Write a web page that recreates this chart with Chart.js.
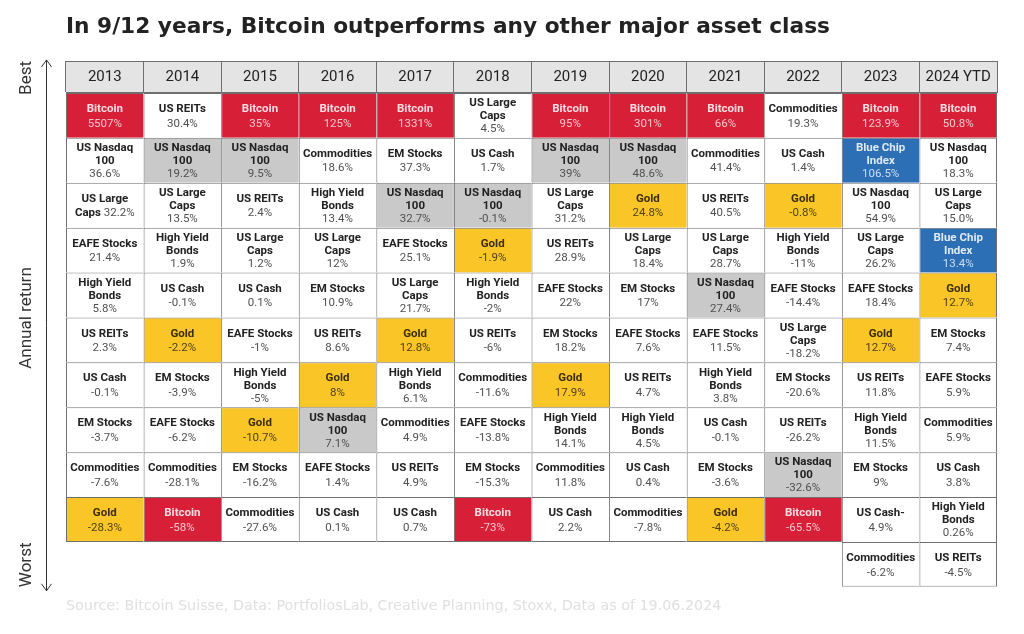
<!DOCTYPE html>
<html>
<head>
<meta charset="utf-8">
<script src="https://cdn.jsdelivr.net/npm/chart.js@4/dist/chart.umd.min.js"></script>
<style>
  body{margin:0;background:#fff;}
  #box{width:1024px;height:634px;}
</style>
</head>
<body>
<div id="box"><canvas id="myChart" width="1024" height="634"></canvas></div>
<script>
// columns
const years = ['2013', '2014', '2015', '2016', '2017', '2018', '2019', '2020', '2021', '2022', '2023', '2024 YTD'];

// assets per year, best to worst
const assets = [
  ['Bitcoin', 'US Nasdaq 100', 'US Large Caps', 'EAFE Stocks', 'High Yield Bonds', 'US REITs', 'US Cash', 'EM Stocks', 'Commodities', 'Gold'],
  ['US REITs', 'US Nasdaq 100', 'US Large Caps', 'High Yield Bonds', 'US Cash', 'Gold', 'EM Stocks', 'EAFE Stocks', 'Commodities', 'Bitcoin'],
  ['Bitcoin', 'US Nasdaq 100', 'US REITs', 'US Large Caps', 'US Cash', 'EAFE Stocks', 'High Yield Bonds', 'Gold', 'EM Stocks', 'Commodities'],
  ['Bitcoin', 'Commodities', 'High Yield Bonds', 'US Large Caps', 'EM Stocks', 'US REITs', 'Gold', 'US Nasdaq 100', 'EAFE Stocks', 'US Cash'],
  ['Bitcoin', 'EM Stocks', 'US Nasdaq 100', 'EAFE Stocks', 'US Large Caps', 'Gold', 'High Yield Bonds', 'Commodities', 'US REITs', 'US Cash'],
  ['US Large Caps', 'US Cash', 'US Nasdaq 100', 'Gold', 'High Yield Bonds', 'US REITs', 'Commodities', 'EAFE Stocks', 'EM Stocks', 'Bitcoin'],
  ['Bitcoin', 'US Nasdaq 100', 'US Large Caps', 'US REITs', 'EAFE Stocks', 'EM Stocks', 'Gold', 'High Yield Bonds', 'Commodities', 'US Cash'],
  ['Bitcoin', 'US Nasdaq 100', 'Gold', 'US Large Caps', 'EM Stocks', 'EAFE Stocks', 'US REITs', 'High Yield Bonds', 'US Cash', 'Commodities'],
  ['Bitcoin', 'Commodities', 'US REITs', 'US Large Caps', 'US Nasdaq 100', 'EAFE Stocks', 'High Yield Bonds', 'US Cash', 'EM Stocks', 'Gold'],
  ['Commodities', 'US Cash', 'Gold', 'High Yield Bonds', 'EAFE Stocks', 'US Large Caps', 'EM Stocks', 'US REITs', 'US Nasdaq 100', 'Bitcoin'],
  ['Bitcoin', 'Blue Chip Index', 'US Nasdaq 100', 'US Large Caps', 'EAFE Stocks', 'Gold', 'US REITs', 'High Yield Bonds', 'EM Stocks', 'US Cash-', 'Commodities'],
  ['Bitcoin', 'US Nasdaq 100', 'US Large Caps', 'Blue Chip Index', 'Gold', 'EM Stocks', 'EAFE Stocks', 'Commodities', 'US Cash', 'High Yield Bonds', 'US REITs']
];

// annual return in %, same order (kept as written in the table)
const returns = [
  ['5507', '36.6', '32.2', '21.4', '5.8', '2.3', '-0.1', '-3.7', '-7.6', '-28.3'],
  ['30.4', '19.2', '13.5', '1.9', '-0.1', '-2.2', '-3.9', '-6.2', '-28.1', '-58'],
  ['35', '9.5', '2.4', '1.2', '0.1', '-1', '-5', '-10.7', '-16.2', '-27.6'],
  ['125', '18.6', '13.4', '12', '10.9', '8.6', '8', '7.1', '1.4', '0.1'],
  ['1331', '37.3', '32.7', '25.1', '21.7', '12.8', '6.1', '4.9', '4.9', '0.7'],
  ['4.5', '1.7', '-0.1', '-1.9', '-2', '-6', '-11.6', '-13.8', '-15.3', '-73'],
  ['95', '39', '31.2', '28.9', '22', '18.2', '17.9', '14.1', '11.8', '2.2'],
  ['301', '48.6', '24.8', '18.4', '17', '7.6', '4.7', '4.5', '0.4', '-7.8'],
  ['66', '41.4', '40.5', '28.7', '27.4', '11.5', '3.8', '-0.1', '-3.6', '-4.2'],
  ['19.3', '1.4', '-0.8', '-11', '-14.4', '-18.2', '-20.6', '-26.2', '-32.6', '-65.5'],
  ['123.9', '106.5', '54.9', '26.2', '18.4', '12.7', '11.8', '11.5', '9', '4.9', '-6.2'],
  ['50.8', '18.3', '15.0', '13.4', '12.7', '7.4', '5.9', '5.9', '3.8', '0.26', '-4.5']
];

// nasdaq is only shaded grey in these years
const greyNasdaqYears = ['2014', '2015', '2016', '2017', '2018', '2019', '2020', '2021', '2022'];
// names broken on two lines
const wrapped = ['US Nasdaq 100', 'US Large Caps', 'High Yield Bonds', 'Blue Chip Index'];
// cells where the value sits on the same line as the name
const inlineCells = [['2013', 'US Large Caps']];

const font = 'Roboto';
const maxRows = Math.max(...assets.map(a => a.length));

function cellColor(i, r){
    var name = assets[i][r];
    if(name == 'Bitcoin') return '#d71f38';
    if(name == 'Gold') return '#fac526';
    if(name == 'Blue Chip Index') return '#2c6fb5';
    if(name == 'US Nasdaq 100' && greyNasdaqYears.includes(years[i])) return '#c9c9c9';
    return '#ffffff';
}

function textColors(bg){
    if(bg == '#d71f38') return ['rgba(255,255,255,0.85)', 'rgba(255,255,255,0.75)'];
    if(bg == '#2c6fb5') return ['rgba(255,255,255,0.85)', 'rgba(255,255,255,0.75)'];
    if(bg == '#fac526') return ['#3a2e05', '#4e4216'];
    return ['#222222', '#505050'];
}

function hasCell(i, r){
    return i >= 0 && i < years.length && assets[i][r] !== undefined;
}

// one dataset per rank, each cell counts 1 in the stack
const datasets = [];
for(let r = 0; r < maxRows; r++){
    datasets.push({
        label: 'rank ' + (r + 1),
        data: years.map((y, i) => hasCell(i, r) ? 1 : null),
        backgroundColor: ctx => cellColor(ctx.dataIndex, r),
        borderColor: '#6f6f6f',
        borderWidth: ctx => ({
            top: 1,
            left: 1,
            right: hasCell(ctx.dataIndex + 1, r) ? 0 : 1,
            bottom: hasCell(ctx.dataIndex, r + 1) ? 0 : 1
        }),
        borderSkipped: false,
        inflateAmount: 0,
        barPercentage: 1,
        categoryPercentage: 1
    });
}

// text inside the cells
const cellText = {
    id: 'cellText',
    afterDatasetsDraw(chart){
        const c = chart.ctx;
        c.save();
        c.textBaseline = 'middle';
        c.textAlign = 'left';
        datasets.forEach((ds, r) => {
            chart.getDatasetMeta(r).data.forEach((bar, i) => {
                if(!hasCell(i, r)) return;
                var name = assets[i][r];
                var val = returns[i][r] + '%';
                var cols = textColors(cellColor(i, r));
                var lines = [];
                if(wrapped.includes(name)){
                    var k = name.lastIndexOf(' ');
                    lines.push([[name.slice(0, k), 'bold']]);
                    lines.push([[name.slice(k + 1), 'bold']]);
                }else{
                    lines.push([[name, 'bold']]);
                }
                var inline = inlineCells.some(p => p[0] == years[i] && p[1] == name);
                if(inline){
                    lines[lines.length - 1].push([' ' + val, 'normal']);
                }else{
                    lines.push([[val, 'normal']]);
                }
                var step = lines.length > 2 ? 13 : 14.5;
                var cx = bar.x;
                var cy = (bar.y + bar.base) / 2 + 1;
                var y0 = cy - (lines.length - 1) * step / 2;
                lines.forEach((segs, n) => {
                    var w = 0;
                    segs.forEach(s => {
                        c.font = (s[1] == 'bold' ? 'bold ' : '') + '11.5px ' + font;
                        w += c.measureText(s[0]).width;
                    });
                    var x = cx - w / 2;
                    segs.forEach(s => {
                        c.font = (s[1] == 'bold' ? 'bold ' : '') + '11.5px ' + font;
                        c.fillStyle = s[1] == 'bold' ? cols[0] : cols[1];
                        c.fillText(s[0], x, y0 + n * step);
                        x += c.measureText(s[0]).width;
                    });
                });
            });
        });
        c.restore();
    }
};

// best / worst arrow and header outline
const sideLabels = {
    id: 'sideLabels',
    afterDraw(chart){
        const c = chart.ctx;
        const a = chart.chartArea;
        const xs = chart.scales.x;
        c.save();
        // top line of the header
        c.strokeStyle = '#6f6f6f';
        c.lineWidth = 1;
        c.beginPath();
        c.moveTo(xs.left, Math.round(xs.top) + 0.5);
        c.lineTo(xs.right, Math.round(xs.top) + 0.5);
        c.stroke();

        var ax = Math.round(a.left - 20) + 0.5;
        var top = xs.top - 1;
        var bottom = a.bottom + 4;
        c.strokeStyle = '#333';
        c.beginPath();
        c.moveTo(ax, top);
        c.lineTo(ax, bottom);
        c.moveTo(ax - 5, top + 7);
        c.lineTo(ax, top);
        c.lineTo(ax + 5, top + 7);
        c.moveTo(ax - 5, bottom - 7);
        c.lineTo(ax, bottom);
        c.lineTo(ax + 5, bottom - 7);
        c.stroke();

        c.fillStyle = '#333';
        c.font = '17px ' + font;
        c.textAlign = 'center';
        c.textBaseline = 'middle';
        var tx = a.left - 39;
        [['Best', xs.top + 17], ['Annual return', 318], ['Worst', a.bottom - 22]].forEach(t => {
            c.save();
            c.translate(tx, t[1]);
            c.rotate(-Math.PI / 2);
            c.fillText(t[0], 0, 0);
            c.restore();
        });
        c.restore();
    }
};

const ctx = document.getElementById('myChart');

new Chart(ctx, {
    type: 'bar',
    data: {
        labels: years,
        datasets: datasets
    },
    plugins: [cellText, sideLabels],
    options: {
        responsive: false,
        animation: false,
        layout: {
            padding: {top: 14, left: 66, right: 27, bottom: 19}
        },
        plugins: {
            legend: {display: false},
            tooltip: {enabled: false},
            title: {
                display: true,
                text: 'In 9/12 years, Bitcoin outperforms any other major asset class',
                align: 'start',
                color: '#222',
                font: {family: 'DejaVu Sans', size: 21.7, weight: 'bold'},
                padding: {top: 0, bottom: 20.9}
            },
            subtitle: {
                display: true,
                position: 'bottom',
                align: 'start',
                text: 'Source: Bitcoin Suisse, Data: PortfoliosLab, Creative Planning, Stoxx, Data as of 19.06.2024',
                color: '#e0e0e0',
                font: {family: 'DejaVu Sans', size: 14.3},
                padding: {top: 11, bottom: 0}
            }
        },
        scales: {
            x: {
                position: 'top',
                stacked: true,
                backgroundColor: '#e4e4e4',
                afterFit: s => { s.height = 32; },
                grid: {
                    drawOnChartArea: false,
                    drawTicks: true,
                    tickLength: 32,
                    color: '#6f6f6f',
                    offset: true
                },
                border: {display: true, color: '#6f6f6f'},
                ticks: {
                    color: '#222',
                    font: {family: font, size: 15},
                    padding: -25,
                    maxRotation: 0,
                    autoSkip: false
                }
            },
            y: {
                display: false,
                stacked: true,
                reverse: true,
                min: 0,
                max: maxRows
            }
        }
    }
});
</script>
</body>
</html>
